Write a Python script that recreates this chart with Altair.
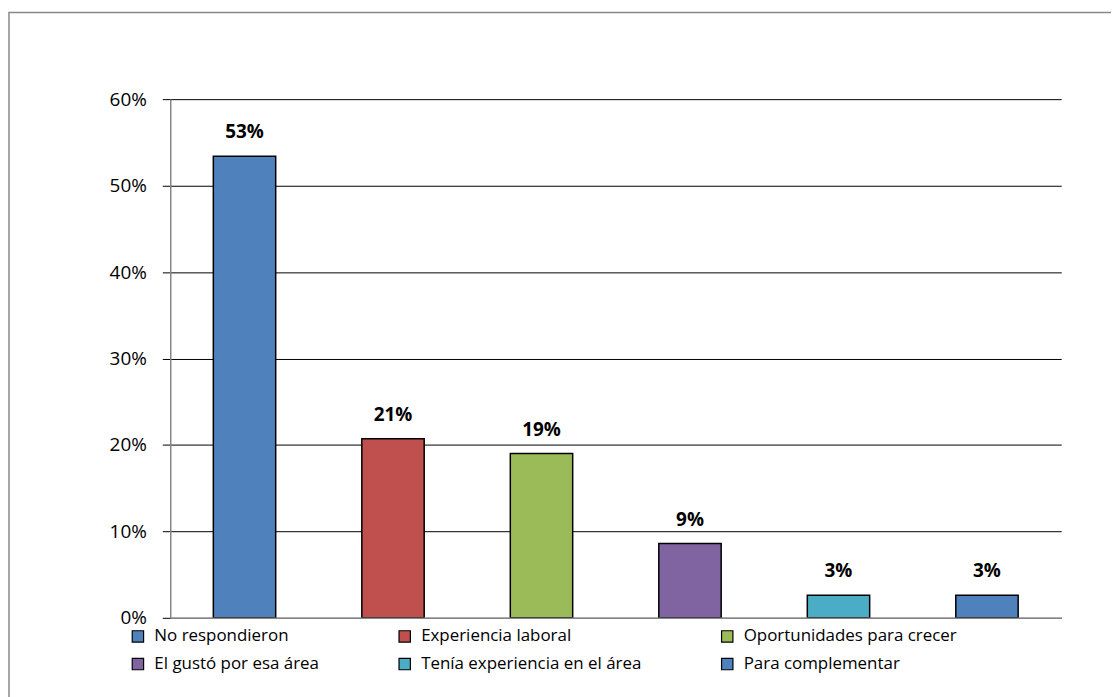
import altair as alt
import pandas as pd

categories = ["No respondieron", "Experiencia laboral", "Oportunidades para crecer",
              "El gustó por esa área", "Tenía experiencia en el área", "Para complementar"]
values = [0.534, 0.207, 0.190, 0.086, 0.026, 0.026]
labels = ["53%", "21%", "19%", "9%", "3%", "3%"]
colors = ["#4F81BD", "#C0504D", "#9BBB59", "#8064A2", "#4BACC6", "#4F81BD"]
y_ticks = [0, 0.1, 0.2, 0.3, 0.4, 0.5, 0.6]

df = pd.DataFrame({"cat": categories, "val": values, "lab": labels})

FONT = "Open Sans"

x_enc = alt.X("cat:N", sort=categories,
              scale=alt.Scale(paddingInner=0.58, paddingOuter=0.29),
              axis=alt.Axis(labels=False, ticks=False, title=None, domainColor="#868686",
                            domainWidth=1.5, grid=False, zindex=1))
y_enc = alt.Y("val:Q", scale=alt.Scale(domain=[0, 0.6], nice=False),
              axis=alt.Axis(values=y_ticks, format=".0%", title=None, grid=True,
                            gridColor="#000000", gridWidth=1, tickColor="#000000",
                            tickSize=8, domainColor="#868686", domainWidth=1.5,
                            labelPadding=16, labelFontSize=19, labelFont=FONT,
                            labelColor="#000000"))

bars = alt.Chart(df).mark_bar(stroke="#000000", strokeWidth=1.5).encode(
    x=x_enc,
    y=y_enc,
    color=alt.Color("cat:N", sort=categories,
                    scale=alt.Scale(domain=categories, range=colors),
                    legend=alt.Legend(title=None, orient="none", legendX=-41, legendY=531,
                                      direction="horizontal",
                                      columns=3, columnPadding=77, rowPadding=10,
                                      symbolType="square", symbolSize=130,
                                      symbolStrokeColor="#000000", symbolStrokeWidth=1.2,
                                      labelFont=FONT, labelFontSize=17, labelColor="#000000",
                                      labelOffset=8, labelLimit=400)),
)

text = alt.Chart(df).mark_text(baseline="bottom", dy=-14, fontWeight="bold",
                               fontSize=19, font=FONT, color="#000000").encode(
    x=alt.X("cat:N", sort=categories),
    y="val:Q",
    text="lab:N",
)

border = alt.Chart(alt.Data(values=[{}])).mark_rect(
    fill=None, stroke="#888888", strokeWidth=1.5).encode(
    x=alt.value(-162), x2=alt.value(1100), y=alt.value(-87), y2=alt.value(800))

chart = alt.layer(border, bars, text).properties(
    width=895, height=521,
    autosize=alt.AutoSizeParams(type="none"),
    padding={"left": 163, "top": 90, "right": 50, "bottom": 80},
).configure(background="white").configure_view(strokeWidth=0)

chart.save("out.html", embed_options={"renderer": "svg", "actions": False})
